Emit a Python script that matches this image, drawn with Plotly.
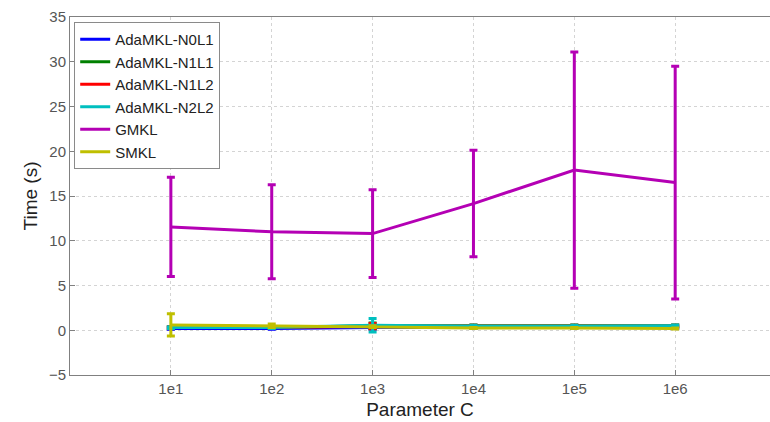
import plotly.graph_objects as go

# Regularisation parameter values on the x axis
categories = ["1e1", "1e2", "1e3", "1e4", "1e5", "1e6"]
positions = [1, 2, 3, 4, 5, 6]

# Mean training time (s) and standard deviation per method
n0l1_mean = [0.20, 0.20, 0.30, 0.30, 0.30, 0.30]
n0l1_std = [0.10, 0.10, 0.20, 0.10, 0.10, 0.10]
n1l1_mean = [0.30, 0.30, 0.50, 0.50, 0.50, 0.50]
n1l1_std = [0.10, 0.10, 0.30, 0.10, 0.10, 0.10]
n1l2_mean = [0.30, 0.30, 0.45, 0.45, 0.45, 0.45]
n1l2_std = [0.10, 0.10, 0.30, 0.10, 0.10, 0.10]
n2l2_mean = [0.30, 0.30, 0.55, 0.45, 0.45, 0.50]
n2l2_std = [0.10, 0.10, 0.75, 0.10, 0.10, 0.10]
gmkl_mean = [11.55, 11.0, 10.8, 14.15, 17.9, 16.5]
gmkl_std = [5.55, 5.25, 4.9, 5.95, 13.2, 13.0]
smkl_mean = [0.60, 0.50, 0.40, 0.25, 0.25, 0.20]
smkl_std = [1.25, 0.20, 0.10, 0.05, 0.05, 0.05]

series = [
    ("AdaMKL-N0L1", n0l1_mean, n0l1_std, "rgb(0,0,255)"),
    ("AdaMKL-N1L1", n1l1_mean, n1l1_std, "rgb(0,128,0)"),
    ("AdaMKL-N1L2", n1l2_mean, n1l2_std, "rgb(255,0,0)"),
    ("AdaMKL-N2L2", n2l2_mean, n2l2_std, "rgb(0,191,191)"),
    ("GMKL", gmkl_mean, gmkl_std, "rgb(180,0,180)"),
    ("SMKL", smkl_mean, smkl_std, "rgb(191,191,0)"),
]

fig = go.Figure()
for name, mean, std, color in series:
    fig.add_trace(go.Scatter(
        x=positions, y=mean, name=name, mode="lines",
        line=dict(color=color, width=3),
        error_y=dict(type="data", array=std, visible=True,
                     color=color, thickness=3, width=4),
    ))

font_family = "Liberation Sans, Arial, sans-serif"
fig.update_layout(
    width=770, height=422,
    margin=dict(l=70, r=0, t=17, b=47),
    paper_bgcolor="white", plot_bgcolor="white",
    font=dict(family=font_family, size=16, color="#444444"),
    showlegend=True,
    legend=dict(
        x=0.006, y=0.986, xanchor="left", yanchor="top",
        bgcolor="white", bordercolor="#8a8a8a", borderwidth=1,
        font=dict(size=15, color="#222222"),
        tracegroupgap=0, itemwidth=30,
    ),
)
fig.update_xaxes(
    range=[0, 6.94],
    tickmode="array", tickvals=positions, ticktext=categories,
    ticks="inside", ticklen=5, tickcolor="#808080",
    showline=True, linecolor="#808080", linewidth=1, mirror=True,
    showgrid=True, gridcolor="#d4d4d4", griddash="dot", gridwidth=1,
    zeroline=False,
    title=dict(text="Parameter C", font=dict(size=19, color="#222222"), standoff=6),
    tickfont=dict(size=15, color="#555555"),
)
fig.update_yaxes(
    range=[-5, 35], tickmode="linear", tick0=-5, dtick=5,
    ticks="inside", ticklen=5, tickcolor="#808080",
    showline=True, linecolor="#808080", linewidth=1,
    showgrid=True, gridcolor="#d4d4d4", griddash="dot", gridwidth=1,
    zeroline=False,
    title=dict(text="Time (s)", font=dict(size=19, color="#222222"), standoff=6),
    tickfont=dict(size=15, color="#555555"),
)

fig.write_html("out.html")
